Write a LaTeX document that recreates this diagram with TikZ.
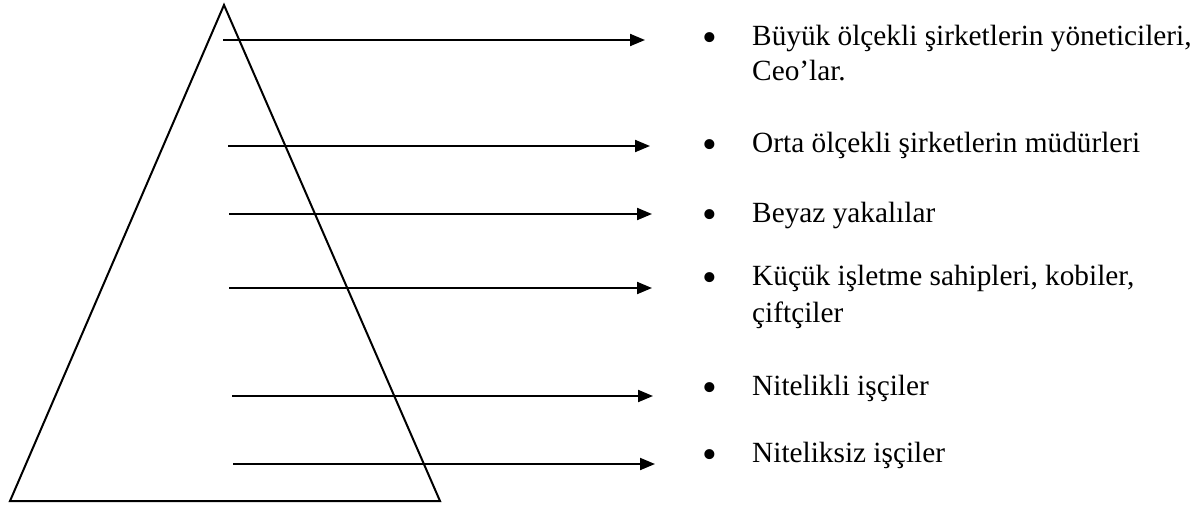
\documentclass[tikz,border=0pt]{standalone}
\usepackage{fontspec}
\setmainfont{Liberation Serif}
\usetikzlibrary{arrows.meta}
\begin{document}
\begin{tikzpicture}[x=1pt,y=-1pt,
  edge/.style={line width=2pt},
  conn/.style={line width=2pt,-{Triangle[length=15pt,width=12pt]}},
  lbl/.style={anchor=base west,inner sep=0pt,font=\fontsize{29.3}{35}\selectfont},
  bul/.style={anchor=base,inner sep=0pt,font=\fontsize{42}{42}\selectfont}]
\useasboundingbox (0,0) rectangle (1198,507);
% triangle
\coordinate (apex) at (224,5);
\coordinate (bl) at (10,501);
\coordinate (br) at (440,501);
\draw[edge,line join=miter] (apex) -- (bl) -- (br) -- cycle;
% arrow endpoints
\coordinate (s1) at (223,40);  \coordinate (e1) at (645,40);
\coordinate (s2) at (228,146); \coordinate (e2) at (650,146);
\coordinate (s3) at (229,214); \coordinate (e3) at (652,214);
\coordinate (s4) at (229,288); \coordinate (e4) at (652,288);
\coordinate (s5) at (232,396); \coordinate (e5) at (653,396);
\coordinate (s6) at (233,464); \coordinate (e6) at (655,464);
\foreach \i in {1,...,6} \draw[conn] (s\i) -- (e\i);
% bullets
\node[bul] (b1) at (710,51) {•};
\node[bul] (b2) at (710,158) {•};
\node[bul] (b3) at (710,228) {•};
\node[bul] (b4) at (710,291) {•};
\node[bul] (b5) at (710,401) {•};
\node[bul] (b6) at (710,468) {•};
% labels
\node[lbl] (t1a) at (752,45) {Büyük ölçekli şirketlerin yöneticileri,};
\node[lbl] (t1b) at (752,80) {Ceo’lar.};
\node[lbl] (t2) at (752,152) {Orta ölçekli şirketlerin müdürleri};
\node[lbl] (t3) at (752,222) {Beyaz yakalılar};
\node[lbl] (t4a) at (752,285) {Küçük işletme sahipleri, kobiler,};
\node[lbl] (t4b) at (752,322) {çiftçiler};
\node[lbl] (t5) at (752,395) {Nitelikli işçiler};
\node[lbl] (t6) at (752,462) {Niteliksiz işçiler};
\end{tikzpicture}
\end{document}
